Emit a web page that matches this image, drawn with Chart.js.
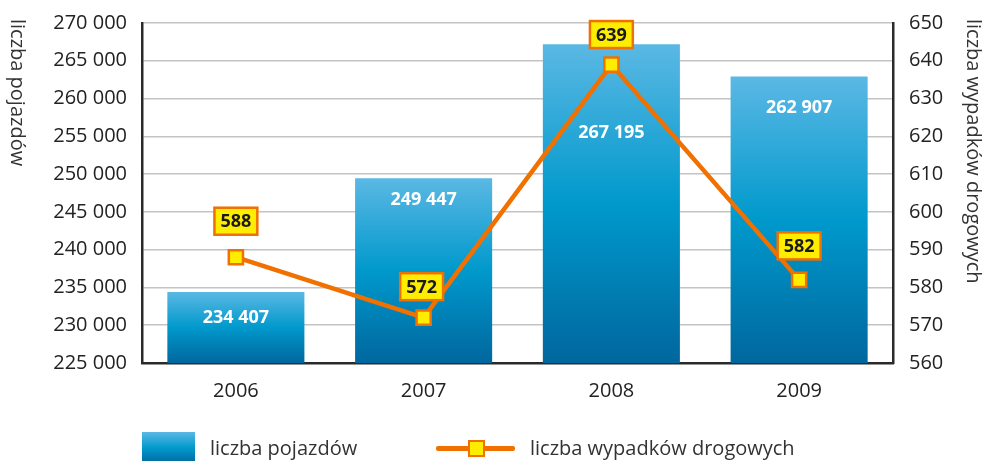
<!DOCTYPE html>
<html>
<head>
<meta charset="utf-8">
<script src="https://cdn.jsdelivr.net/npm/chart.js@4/dist/chart.umd.min.js"></script>
<style>
  html, body { margin: 0; padding: 0; background: #fff; }
  #wrap { position: relative; width: 987px; height: 461px; overflow: hidden; }
  #c { position: absolute; left: 0; top: 0; }
  .lg { position: absolute; font-family: "Open Sans", sans-serif; font-size: 20px; color: #333; white-space: nowrap; line-height: 24px; }
  #sw1 { position: absolute; left: 142px; top: 432px; width: 53px; height: 32px;
         background: linear-gradient(to bottom, #5bb8e4 0%, #0099cc 50%, #00679e 100%); }
  #ln { position: absolute; left: 436px; top: 446px; width: 79px; height: 5px; background: #f07000; border-radius: 2px; }
  #sq { position: absolute; left: 468px; top: 440px; width: 13px; height: 13px; background: #ffed00; border: 2.5px solid #f07000; }
</style>
</head>
<body>
<div id="wrap">
  <canvas id="c" width="987" height="461"></canvas>
  <div id="sw1"></div>
  <div class="lg" style="left:210px; top:436px;">liczba pojazdów</div>
  <div id="ln"></div>
  <div id="sq"></div>
  <div class="lg" style="left:530px; top:436px;">liczba wypadków drogowych</div>
</div>
<script>
const categories = ["2006", "2007", "2008", "2009"];
const vehicles = [234407, 249447, 267195, 262907];
const accidents = [588, 572, 639, 582];
const leftTitle = "liczba pojazdów";
const rightTitle = "liczba wypadków drogowych";
const vehiclesLabel = "liczba pojazdów";
const accidentsLabel = "liczba wypadków drogowych";

const FONT = '"Open Sans", sans-serif';
const fmt = v => String(Math.round(v)).replace(/\B(?=(\d{3})+(?!\d))/g, ' ');

// style offsets for value labels (pixels below bar top / above point)
const barLabelDrop = [26, 22, 89, 31];
const lineLabelRise = [36, 31, 30, 34];

const labelsPlugin = {
  id: 'labels',
  afterDatasetsDraw(chart) {
    const ctx = chart.ctx;
    ctx.save();
    const bm = chart.getDatasetMeta(0);
    ctx.font = 'bold 18px ' + FONT;
    ctx.fillStyle = '#ffffff';
    ctx.textAlign = 'center';
    ctx.textBaseline = 'middle';
    bm.data.forEach((el, i) => {
      ctx.fillText(fmt(vehicles[i]), el.x, el.y + barLabelDrop[i]);
    });
    const lm = chart.getDatasetMeta(1);
    ctx.font = 'bold 18px ' + FONT;
    lm.data.forEach((el, i) => {
      const t = String(accidents[i]);
      const w = ctx.measureText(t).width + 12;
      const h = 27;
      const cx = el.x - (i === 1 ? 2 : 0);
      const cy = el.y - lineLabelRise[i];
      ctx.fillStyle = '#ffed00';
      ctx.fillRect(cx - w / 2, cy - h / 2, w, h);
      ctx.lineWidth = 2.5;
      ctx.strokeStyle = '#f07000';
      ctx.strokeRect(cx - w / 2, cy - h / 2, w, h);
      ctx.fillStyle = '#1a1a1a';
      ctx.fillText(t, cx, cy + 1);
    });
    ctx.restore();
  },
  afterDraw(chart) {
    const ctx = chart.ctx;
    [[leftTitle, 17], [rightTitle, 973]].forEach(([t, x]) => {
      ctx.save();
      ctx.font = '20px ' + FONT;
      ctx.fillStyle = '#333';
      ctx.textAlign = 'left';
      ctx.textBaseline = 'middle';
      ctx.translate(x, 19);
      ctx.rotate(Math.PI / 2);
      ctx.fillText(t, 0, 0);
      ctx.restore();
    });
  }
};

const tickFont = { family: FONT, size: 20, lineHeight: 1 };

new Chart(document.getElementById('c'), {
  data: {
    labels: categories,
    datasets: [
      {
        type: 'bar',
        label: vehiclesLabel,
        data: vehicles,
        yAxisID: 'y',
        order: 2,
        barPercentage: 0.73,
        categoryPercentage: 1,
        backgroundColor: (c) => {
          const ch = c.chart;
          if (!ch.chartArea || c.type !== 'data' || !ch.scales.y) return '#0099cc';
          const top = ch.scales.y.getPixelForValue(c.raw);
          const bot = ch.chartArea.bottom;
          const g = ch.ctx.createLinearGradient(0, top, 0, bot);
          g.addColorStop(0, '#5bb8e4');
          g.addColorStop(0.5, '#0099cc');
          g.addColorStop(1, '#00679e');
          return g;
        }
      },
      {
        type: 'line',
        label: accidentsLabel,
        data: accidents,
        yAxisID: 'y1',
        order: 1,
        borderColor: '#f07000',
        borderWidth: 4.5,
        pointStyle: 'rect',
        pointRadius: 10,
        pointBorderWidth: 2.5,
        pointBackgroundColor: '#ffed00',
        pointBorderColor: '#f07000',
        tension: 0
      }
    ]
  },
  options: {
    responsive: false,
    animation: false,
    layout: { padding: { top: 23, bottom: 48, left: 0, right: 0 } },
    plugins: { legend: { display: false }, tooltip: { enabled: false } },
    scales: {
      x: {
        offset: true,
        grid: { display: false, drawTicks: false },
        border: { color: '#2a2a2a', width: 2.5 },
        ticks: { font: tickFont, color: '#222', padding: 18 },
        afterFit: s => { s.height = 50; s.paddingLeft = 0; s.paddingRight = 0; }
      },
      y: {
        position: 'left',
        min: 225000, max: 270000,
        grid: { color: '#c4c4c4', lineWidth: 1.5, drawTicks: false },
        border: { color: '#2a2a2a', width: 2.5 },
        ticks: { stepSize: 5000, font: tickFont, color: '#222', padding: 15, callback: v => fmt(v) },
        afterFit: s => { s.width = 142; s.paddingTop = 0; s.paddingBottom = 0; }
      },
      y1: {
        position: 'right',
        min: 560, max: 650,
        grid: { display: false, drawTicks: false },
        border: { color: '#2a2a2a', width: 2.5 },
        ticks: { stepSize: 10, font: tickFont, color: '#222', padding: 16 },
        afterFit: s => { s.width = 94; s.paddingTop = 0; s.paddingBottom = 0; }
      }
    }
  },
  plugins: [labelsPlugin]
});
</script>
</body>
</html>
